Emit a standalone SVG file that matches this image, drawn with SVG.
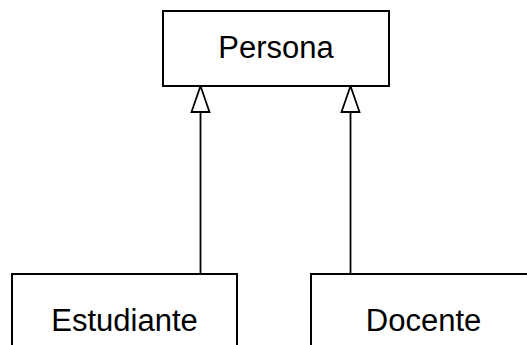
<svg xmlns="http://www.w3.org/2000/svg" width="527" height="345" viewBox="0 0 527 345">
<style>
.box{fill:#fff;stroke:#000;stroke-width:2}
.lbl{font-family:"Liberation Sans",Arial,sans-serif;font-size:31px;fill:#000;text-anchor:middle}
.ln{stroke:#000;stroke-width:1.8;fill:none}
.hd{fill:#fff;stroke:#000;stroke-width:1.8}
</style>
<g id="connectors">
<line class="ln" x1="200.5" y1="112" x2="200.5" y2="274"/>
<polygon class="hd" points="200.5,86 191.5,112 209.5,112"/>
<line class="ln" x1="350.5" y1="112" x2="350.5" y2="274"/>
<polygon class="hd" points="350.5,86 341.5,112 359.5,112"/>
</g>
<g id="persona">
<rect class="box" x="163" y="11" width="226" height="75"/>
<text class="lbl" x="276" y="58">Persona</text>
</g>
<g id="estudiante">
<rect class="box" x="12" y="274" width="225" height="80"/>
<text class="lbl" x="124.5" y="331">Estudiante</text>
</g>
<g id="docente">
<rect class="box" x="311" y="274" width="225" height="80"/>
<text class="lbl" x="423.5" y="331">Docente</text>
</g>
</svg>
